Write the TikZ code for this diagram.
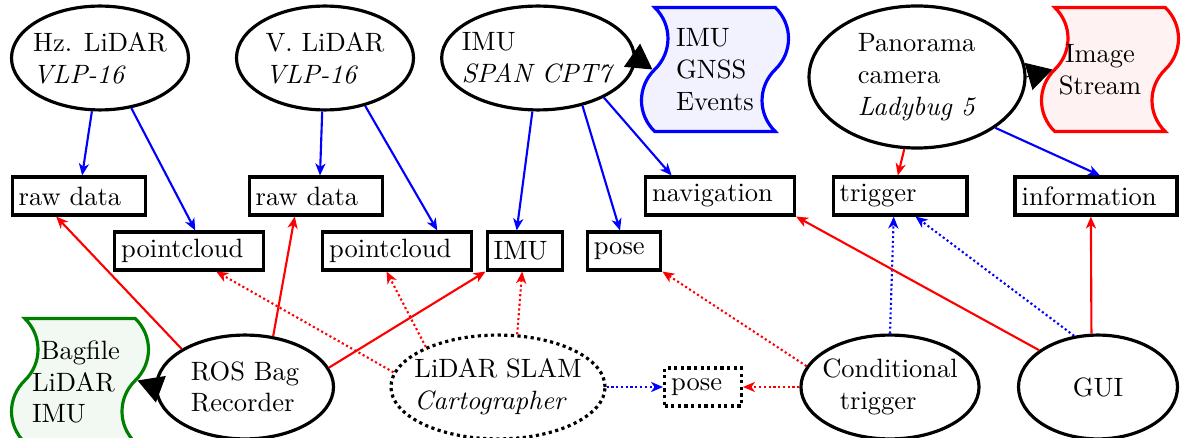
\documentclass[tikz,border=0pt]{standalone}
\usepackage{tikz}
\usetikzlibrary{arrows.meta,shapes.geometric,shapes.symbols}

\begin{document}
\begin{tikzpicture}[x=0.3774pt,y=-0.3774pt,
    sensor/.style={ellipse,draw,very thick,inner xsep=-3pt,inner ysep=0pt,align=left,minimum height=39.2pt},
    msg/.style={rectangle,draw,very thick,inner sep=2.5pt,minimum height=14.3pt,align=left,text width=#1},
    doc/.style={tape,draw=#1,fill=#1!5,very thick,rotate=90,tape bend height=10pt,
      tape bend top=out and in,tape bend bottom=out and in,
      minimum width=46.8pt,minimum height=51.7pt},
    flow/.style={thick,-{Stealth[length=4.5pt,width=3.8pt,inset=1.3pt]}},
    dotline/.style={dash pattern=on 0.8pt off 1pt},
    bigtip/.style={-{Triangle[length=9.4pt,width=10.6pt]}},
  ]
  \useasboundingbox (0,0) rectangle (1181,438);

  % sensors
  \node[sensor,minimum width=66.8pt] (hz) at (100,58) {Hz. LiDAR\\\textit{VLP-16}};
  \node[sensor,minimum width=66.8pt] (vl) at (325,58) {V. LiDAR\\\textit{VLP-16}};
  \node[sensor,minimum width=70.6pt] (imu) at (538,58) {IMU\\\textit{SPAN CPT7}};
  \node[doc=blue,minimum height=55.5pt] (imudoc) at (715,69.5) {};
  \node[align=left] (imutext) at (715,69.5) {IMU\\GNSS\\Events};
  \node[sensor,minimum width=81.5pt,minimum height=53.6pt] (pano) at (917,77) {Panorama\\camera\\\textit{Ladybug 5}};
  \node[doc=red] (imgdoc) at (1110,69.5) {};
  \node[align=center] (imgtext) at (1100,69.5) {Image\\Stream};

  % topics
  \node[msg=45.5pt] (raw1) at (79,196) {raw data};
  \node[msg=51.2pt] (pc1) at (189,251) {pointcloud};
  \node[msg=45.5pt] (raw2) at (316,196) {raw data};
  \node[msg=51.2pt] (pc2) at (397,251) {pointcloud};
  \node[msg=23.6pt] (imub) at (525,251) {IMU};
  \node[msg=22.8pt] (pose) at (624,251) {pose};
  \node[msg=51.2pt] (nav) at (720,196) {navigation};
  \node[msg=45.5pt] (trig) at (900,196) {trigger};
  \node[msg=56.1pt] (info) at (1096,196) {information};

  % processing
  \node[doc=green!50!black] (bag) at (80,380.5) {};
  \node[align=left] (bagtext) at (76,382) {~Bagfile\\LiDAR\\IMU};
  \node[sensor,minimum width=66.8pt] (ros) at (245,387) {ROS Bag\\Recorder};
  \node[sensor,dash pattern=on 1.2pt off 1.3pt,minimum width=80.8pt] (slam) at (498,387) {LiDAR SLAM\\\textit{Cartographer}};
  \node[msg=24pt,dash pattern=on 1.2pt off 1.3pt] (pose2) at (703,387) {pose};
  \node[sensor,minimum width=67.2pt] (cond) at (890,387) {Conditional\\~~trigger};
  \node[sensor,minimum width=60pt,align=center] (gui) at (1098,387) {GUI};

  % sensor outputs
  \draw[flow,blue] (hz) -- (raw1);
  \draw[flow,blue] (hz.-58) -- (pc1.73);
  \draw[flow,blue] (vl.-93) -- (raw2.79);
  \draw[flow,blue] (vl.-50) -- (pc2.27);
  \draw[flow,blue] (imu.-96) -- (imub.112);
  \draw[flow,blue] (imu.-47) -- (pose.101);
  \draw[flow,blue] (imu.-31) -- (nav.157);
  \draw[flow,red] (pano.-100) -- (trig.96);
  \draw[flow,blue] (pano.-33) -- (info.79);

  % recorder
  \draw[flow,red] (ros.149) -- (raw1.-138);
  \draw[flow,red] (ros.61) -- (raw2.-136);
  \draw[flow,red] (ros.13) -- (imub.south west);

  % slam
  \draw[flow,red,dotline] (slam.172) -- (pc1.-37);
  \draw[flow,red,dotline] (slam.151) -- (pc2.-117);
  \draw[flow,red,dotline] (slam.70) -- (imub.-98);
  \draw[flow,blue,dotline] (slam.east) -- (pose2.west);

  % trigger and gui
  \draw[flow,red,dotline] (cond.166) -- (pose.south east);
  \draw[flow,red,dotline] (cond.west) -- (pose2.east);
  \draw[flow,blue,dotline] (cond.north) -- (trig.-107);
  \draw[flow,red] (gui.148) -- (nav.south east);
  \draw[flow,red] (gui.97) -- (info.-104);
  \draw[flow,blue,dotline] (gui.115) -- (trig.-53);

  % storage
  \draw[bigtip] (imu.east) -- (imudoc.north);
  \draw[bigtip] (pano.east) -- (imgdoc.north);
  \draw[bigtip] (ros.west) -- (bag.south);
\end{tikzpicture}
\end{document}
